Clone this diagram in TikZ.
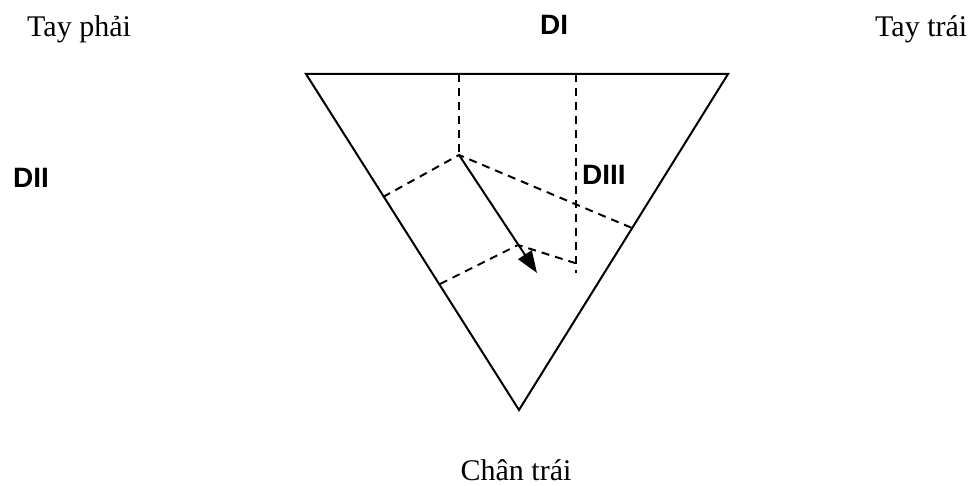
\documentclass[tikz,border=0pt]{standalone}
\usepackage{fontspec}
\setmainfont{Liberation Serif}
\newfontfamily\labsans{Liberation Sans}
\usetikzlibrary{arrows.meta}
\begin{document}
\begin{tikzpicture}[x=1pt,y=-1pt,
  edge/.style={line width=2pt,line join=miter},
  guide/.style={line width=2pt,dash pattern=on 8pt off 6pt},
  serlabel/.style={inner sep=0pt,font=\fontsize{30}{36}\selectfont},
  leadlabel/.style={inner sep=0pt,font=\labsans\bfseries\fontsize{28}{33}\selectfont}]
\useasboundingbox (0,0) rectangle (975,486);
% triangle vertices
\coordinate (RA) at (306,74);
\coordinate (LA) at (728,74);
\coordinate (LL) at (519,410);
\draw[edge] (RA) -- (LA) -- (LL) -- cycle;
% construction
\coordinate (T1) at (459,74);
\coordinate (C) at (459,155);
\coordinate (T2) at (576,74);
\coordinate (B2) at (576,273);
\coordinate (P2) at (383,197);
\coordinate (P3) at (632,228);
\coordinate (Q) at (518,245);
\coordinate (Q1) at (440,284);
\coordinate (Q2) at (575,263);
\coordinate (E) at (537,273);
\draw[guide] (T1) -- (C);
\draw[guide] (T2) -- (B2);
\draw[guide] (P2) -- (C) -- (P3);
\draw[guide] (Q1) -- (Q) -- (Q2);
\draw[line width=2pt,-{Triangle[length=22pt,width=16pt]}] (C) -- (E);
% labels
\node[serlabel,anchor=base west] (tp) at (27,37) {Tay phải};
\node[serlabel,anchor=base west] (tt) at (875,37) {Tay trái};
\node[serlabel,anchor=base] (ct) at (516,480) {Chân trái};
\node[leadlabel,anchor=base west] (d1) at (540,35) {DI};
\node[leadlabel,anchor=base west] (d2) at (13,188) {DII};
\node[leadlabel,anchor=base west] (d3) at (582,185) {DIII};
\end{tikzpicture}
\end{document}
